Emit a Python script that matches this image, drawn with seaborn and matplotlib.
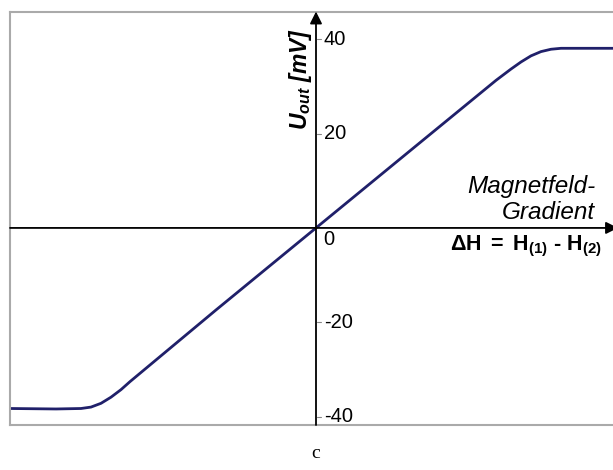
import numpy as np
import pandas as pd
import matplotlib
matplotlib.use("Agg")
import matplotlib.pyplot as plt
import seaborn as sns

# Data (x in arbitrary gradient units, y in mV)
x_vals = [-30.6, -26.0, -23.5, -22.5, -21.5, -20.5, -19.5, -18.6, -10.0, 0.0,
          10.0, 18.0, 19.5, 20.5, 21.5, 22.5, 23.5, 24.5, 29.7]
u_vals = [-38.3, -38.4, -38.3, -38.0, -37.2, -35.9, -34.3, -32.6, -17.4, 0.0,
          17.4, 31.3, 33.7, 35.2, 36.5, 37.4, 37.9, 38.1, 38.1]
y_ticks = [-40, -20, 20, 40]
y_tick_labels = ["-40", "-20", "20", "40"]

df = pd.DataFrame({"dH": x_vals, "U": u_vals})

sns.set_theme(style="white")
plt.rcParams["font.family"] = ["Liberation Sans", "DejaVu Sans"]
plt.rcParams["text.color"] = "black"
plt.rcParams["mathtext.fontset"] = "custom"
plt.rcParams["mathtext.rm"] = "Liberation Sans"
plt.rcParams["mathtext.it"] = "Liberation Sans:italic"
plt.rcParams["mathtext.bf"] = "Liberation Sans:bold"
plt.rcParams["mathtext.bfit"] = "Liberation Sans:bold:italic"

fig = plt.figure(figsize=(6.13, 4.70), dpi=100)
ax = fig.add_axes([10 / 613, 45 / 470, 1 - 10 / 613, (425 - 12) / 470])

sns.lineplot(data=df, x="dH", y="U", ax=ax, color="#20206a", linewidth=2.0)

ax.set_xlim(-30.6, 29.7)
ax.set_ylim(-41.8, 45.8)
ax.set_xticks([])
ax.set_yticks([])
ax.set_xlabel("")
ax.set_ylabel("")

for s in ["left", "top", "bottom"]:
    ax.spines[s].set_color("#aaaaaa")
    ax.spines[s].set_linewidth(1.5)
ax.spines["right"].set_visible(False)

# axes through origin with arrows
ax.annotate("", xy=(0, 45.9), xytext=(0, -41.8),
            arrowprops=dict(arrowstyle="-|>", color="black", lw=1.3,
                            mutation_scale=18, shrinkA=0, shrinkB=0),
            annotation_clip=False)
ax.annotate("", xy=(30.2, 0), xytext=(-30.6, 0),
            arrowprops=dict(arrowstyle="-|>", color="black", lw=1.3,
                            mutation_scale=18, shrinkA=0, shrinkB=0),
            annotation_clip=False)

# tick marks and labels on the y axis
for v, lab in zip(y_ticks, y_tick_labels):
    ax.plot([0.1, 0.45], [v, v], color="#888888", lw=0.8)
    ax.text(0.8, v, lab, fontsize=14.5, va="center", ha="left", color="black")
ax.text(0.7, -0.5, "0", fontsize=14.5, va="top", ha="left", color="black")

ax.text(-1.5, 31.5, r"$\mathbfit{U}_{\mathbfit{out}}$ $\mathbfit{[mV]}$",
        rotation=90, fontsize=16.5, ha="center", va="center", color="black")

ax.text(27.9, 6.0, "Magnetfeld-\nGradient", fontsize=17.5, style="italic",
        ha="right", va="center", linespacing=1.15, color="black")
ax.text(28.6, -4.0, r"$\mathbf{\Delta H}$ $\mathbf{=}$ $\mathbf{H_{(1)}}$ $\mathbf{‐}$ $\mathbf{H_{(2)}}$",
        fontsize=15.5, ha="right", va="center", color="black")

fig.text(316 / 613, 1 - 462 / 470, "c", fontsize=14, family="Liberation Serif",
         ha="center", va="bottom", color="black")

fig.savefig("out.png", dpi=100)
